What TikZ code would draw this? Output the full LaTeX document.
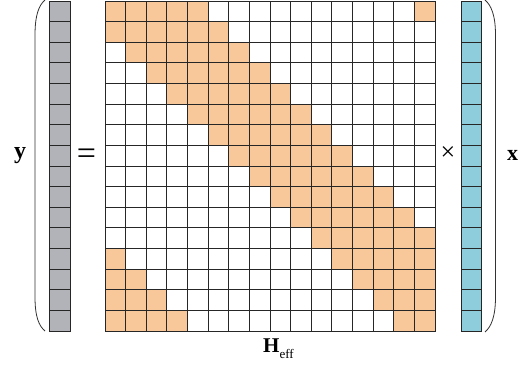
\documentclass[tikz,border=0pt]{standalone}
\usepackage{fontspec}
\setmainfont{Liberation Serif}
\definecolor{band}{RGB}{248,199,154}
\definecolor{yvec}{RGB}{178,179,184}
\definecolor{xvec}{RGB}{142,205,220}
\begin{document}
\begin{tikzpicture}[x=1pt,y=-1pt,
  cell/.style={draw=black!85,line width=0.9pt},
  paren/.style={line width=0.8pt,draw=black!80},
  lbl/.style={inner sep=0pt}]
\useasboundingbox (0,0) rectangle (527,367);
\def\cs{20.625}
% matrix H_eff
\foreach \r in {0,...,15}{
  \foreach \c in {0,...,15}{
    \pgfmathtruncatemacro{\d}{mod(\c-\r+17,16)}
    \ifnum\d<6 \def\fc{band}\else\def\fc{white}\fi
    \filldraw[cell,fill=\fc] ({105+\c*\cs},{1+\r*\cs}) rectangle ++(\cs,\cs);
  }
}
% vectors
\foreach \r in {0,...,15}{
  \filldraw[cell,fill=yvec] (49.5,{1+\r*\cs}) rectangle ++(\cs,\cs);
  \filldraw[cell,fill=xvec] (461,{1+\r*\cs}) rectangle ++(\cs,\cs);
}
% parentheses
\draw[paren] (45,0) .. controls (39,5) and (35,15) .. (35,35) -- (35,297) .. controls (35,317) and (39,326) .. (45,331);
\draw[paren] (485,0) .. controls (491,5) and (495.5,15) .. (495.5,35) -- (495.5,297) .. controls (495.5,317) and (491,327) .. (485,332);
% labels
\node[lbl,anchor=base] (ylab) at (20,158) {\fontsize{24}{24}\selectfont\bfseries y};
\node[lbl] (eq) at (86.5,157) {\fontsize{34}{34}\selectfont =};
\node[lbl] (times) at (448,154) {\fontsize{26}{26}\selectfont ×};
\node[lbl,anchor=base] (xlab) at (512.5,160.5) {\fontsize{22}{22}\selectfont\bfseries x};
\node[lbl,anchor=base west] (hlab) at (263,352) {\fontsize{21}{21}\selectfont\bfseries H\raisebox{-0.3em}{\fontsize{13}{13}\selectfont\mdseries eff}};
\end{tikzpicture}
\end{document}
